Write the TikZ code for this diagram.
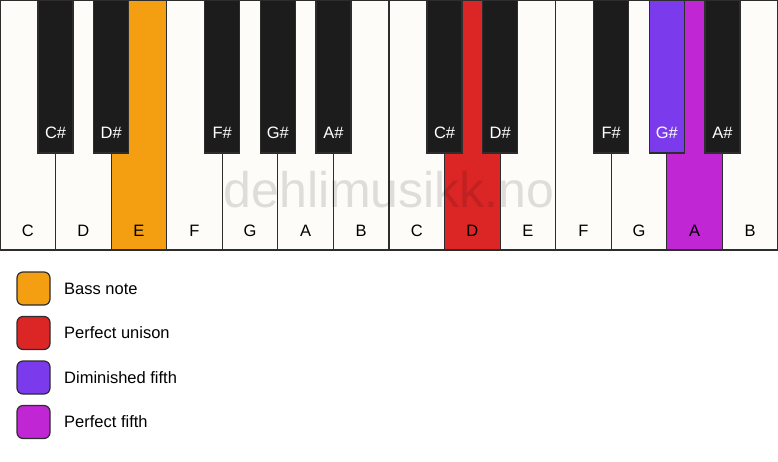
\documentclass[tikz,border=0pt]{standalone}
\usepackage{fontspec}
\setmainfont{Liberation Sans}
\usetikzlibrary{calc}
\definecolor{keywhite}{RGB}{253, 252, 249}
\definecolor{keyblack}{RGB}{28, 28, 28}
\definecolor{keyline}{RGB}{45, 45, 45}
\definecolor{bassorange}{RGB}{243, 159, 17}
\definecolor{unisonred}{RGB}{220, 38, 38}
\definecolor{dimpurple}{RGB}{124, 58, 237}
\definecolor{fifthmagenta}{RGB}{192, 38, 211}
\tikzstyle{whitekey} = [draw=keyline, outer sep=0, inner sep=0,
    minimum width=55.57pt, minimum height=250pt, line width=1.2pt]
\tikzstyle{blackkey} = [draw=keyline, outer sep=0, inner sep=0,
    minimum width=35pt, minimum height=153pt, line width=1.2pt]
\tikzstyle{keylabel} = [inner sep=0, font=\fontsize{16.5}{19}\selectfont]
\tikzstyle{legendbox} = [draw=keyline, rounded corners=6pt, outer sep=0,
    minimum size=33pt, line width=1.2pt]

\begin{document}
\begin{tikzpicture}[x=1pt, y=1pt]

\useasboundingbox (0,0) rectangle (778,-461);
\fill[white] (0,0) rectangle (778,-461);

%%% white keys
\foreach \n/\c [count=\i from 0] in {C/keywhite, D/keywhite, E/bassorange, F/keywhite,
    G/keywhite, A/keywhite, B/keywhite, C/keywhite, D/unisonred, E/keywhite,
    F/keywhite, G/keywhite, A/fifthmagenta, B/keywhite}
{
\node[whitekey, fill=\c] (w\i) at (\i*55.571+27.786,-125) {};
\node[keylabel] (wl\i) at (\i*55.571+27.786,-230.5) {\n};
}

%%% black keys
\foreach \k/\n/\c in {1/C\#/keyblack, 2/D\#/keyblack, 4/F\#/keyblack, 5/G\#/keyblack,
    6/A\#/keyblack, 8/C\#/keyblack, 9/D\#/keyblack, 11/F\#/keyblack,
    12/G\#/dimpurple, 13/A\#/keyblack}
{
\node[blackkey, fill=\c] (b\k) at (\k*55.571,-76.5) {};
\node[keylabel, text=white] (bl\k) at (\k*55.571,-133) {\n};
}

%%% watermark
\node[text=black, opacity=0.12, inner sep=0,
    font=\fontsize{50}{54}\selectfont] (mark) at (389,-190) {dehlimusikk.no};

%%% legend
\node[legendbox, fill=bassorange] (l1) at (33.5,-288.5) {};
\node[legendbox, fill=unisonred] (l2) at (33.5,-333) {};
\node[legendbox, fill=dimpurple] (l3) at (33.5,-377.5) {};
\node[legendbox, fill=fifthmagenta] (l4) at (33.5,-422) {};

\node[keylabel, anchor=west] (t1) at ($(l1.east)+(14,0)$) {Bass note};
\node[keylabel, anchor=west] (t2) at ($(l2.east)+(14,0)$) {Perfect unison};
\node[keylabel, anchor=west] (t3) at ($(l3.east)+(14,0)$) {Diminished fifth};
\node[keylabel, anchor=west] (t4) at ($(l4.east)+(14,0)$) {Perfect fifth};

\end{tikzpicture}
\end{document}
